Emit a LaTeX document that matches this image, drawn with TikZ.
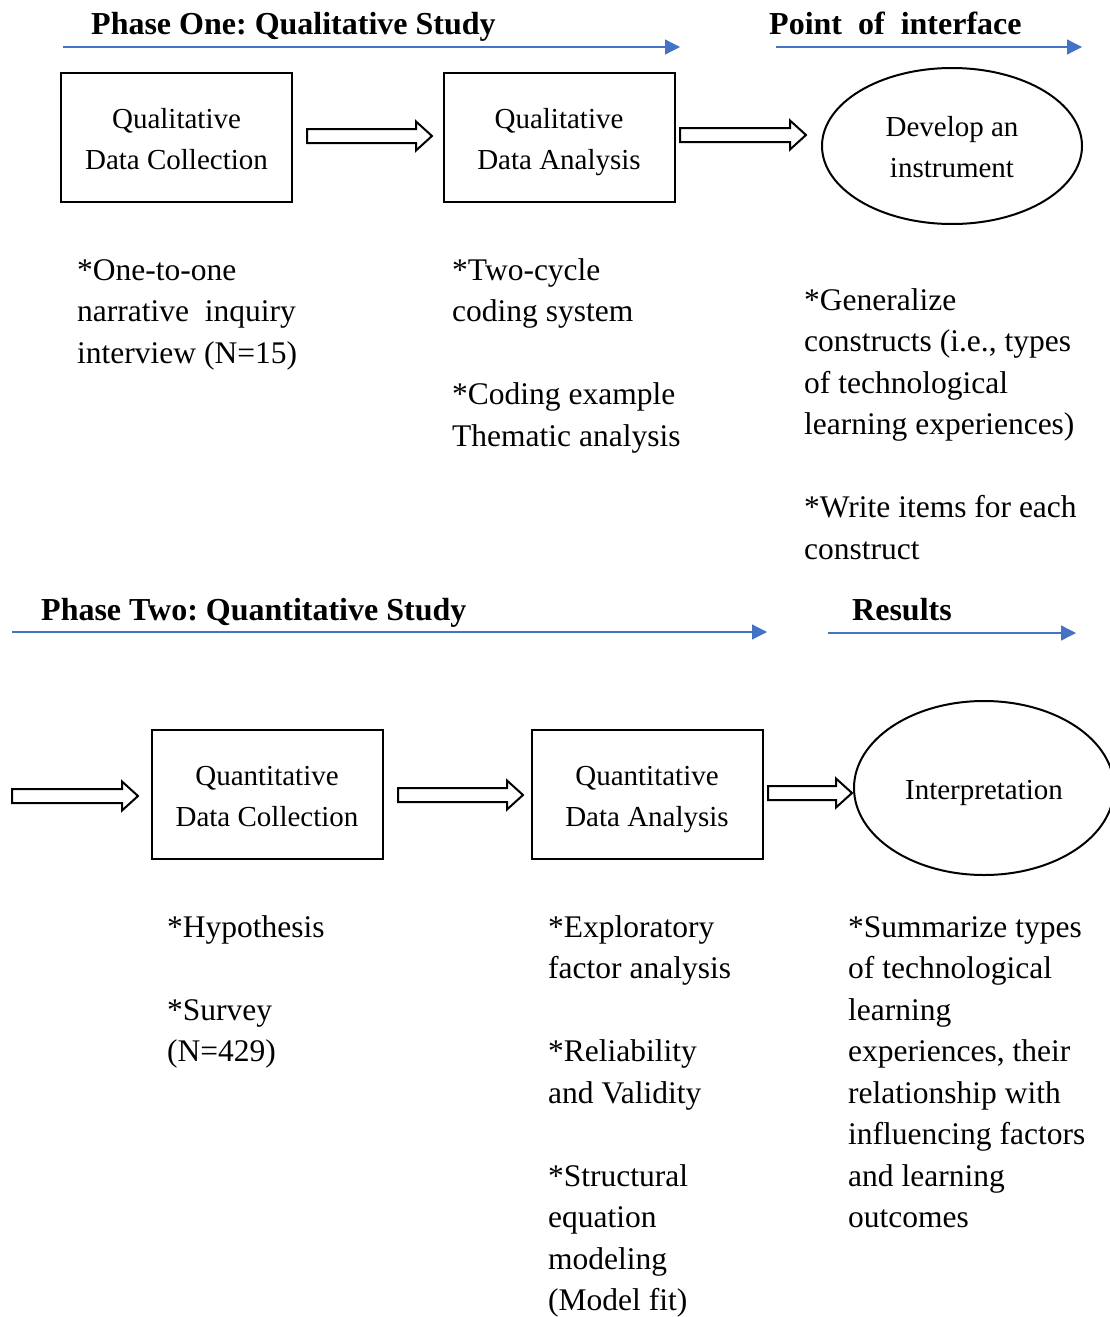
\documentclass[tikz,border=0pt]{standalone}
\usepackage{fontspec}
\setmainfont{Liberation Serif}
\usetikzlibrary{arrows.meta,shapes.geometric}
\definecolor{flowblue}{HTML}{4472C4}
% line struts that set the vertical placement of text inside shapes
\newcommand\topstrut{\rule{0pt}{30pt}}
\newcommand\botstrut{\rule[-8pt]{0pt}{8pt}}
\frenchspacing

\begin{document}
\begin{tikzpicture}[x=1pt,y=-1pt,
  box/.style={draw, line width=2pt, minimum width=231pt, minimum height=129pt,
    inner sep=0pt, align=center, font=\fontsize{29}{41}\selectfont},
  oval/.style={draw, ellipse, line width=2pt, inner sep=0pt, align=center,
    font=\fontsize{29}{41}\selectfont},
  note/.style={anchor=north west, inner sep=0pt, align=left,
    font=\fontsize{31.5}{41.5}\selectfont},
  phase/.style={anchor=base west, inner sep=0pt,
    font=\fontsize{32}{38}\selectfont\bfseries},
  timeline/.style={draw=flowblue, line width=1.3pt,
    -{Triangle[length=15pt,width=15pt]}},
  hollow/.style={draw, line width=2pt, fill=white, line join=miter},
  pics/hollowarrow/.style={code={
    \draw[hollow] (0,-7) -- ({#1-16},-7) -- ({#1-16},-14.5) -- (#1,0)
      -- ({#1-16},14.5) -- ({#1-16},7) -- (0,7) -- cycle;}},
]
\clip (0,0) rectangle (1110,1317);

% ---------- Phase one ----------
\node[phase] (h1) at (91,34) {Phase One: Qualitative Study};
\node[phase] (h2) at (769,34) {Point\ \ of\ \ interface};
\coordinate (t1s) at (63,47);   \coordinate (t1e) at (680,47);
\coordinate (t2s) at (776,47);  \coordinate (t2e) at (1082,47);
\draw[timeline] (t1s) -- (t1e);
\draw[timeline] (t2s) -- (t2e);

\node[box] (qlc) at (176.5,137.5) {\topstrut Qualitative\\Data Collection\botstrut};
\node[box] (qla) at (559,137.5) {\topstrut Qualitative\\Data Analysis\botstrut};
\node[oval, minimum width=260pt, minimum height=156pt] (dev) at (952,146)
  {\topstrut Develop an\\instrument\botstrut};

\pic (a1) at (307,136) {hollowarrow=125};
\pic (a2) at (680,135) {hollowarrow=126};

\node[note] (n1) at (77,251) {\strut*One-to-one\\narrative\ \ inquiry\\interview (N=15)};
\node[note] (n2) at (452,251) {\strut*Two-cycle\\coding system\\[41.5pt]{}*Coding example\\Thematic analysis};
\node[note] (n3) at (804,281) {\strut*Generalize\\constructs (i.e., types\\of technological\\learning experiences)\\[41.5pt]{}*Write items for each\\construct};

% ---------- Phase two ----------
\node[phase] (h3) at (41,620) {Phase Two: Quantitative Study};
\node[phase] (h4) at (852,620) {Results};
\coordinate (t3s) at (12,632);  \coordinate (t3e) at (767,632);
\coordinate (t4s) at (828,633); \coordinate (t4e) at (1076,633);
\draw[timeline] (t3s) -- (t3e);
\draw[timeline] (t4s) -- (t4e);

\pic (a3) at (12,796) {hollowarrow=126};
\node[box] (qnc) at (267,794.5) {\topstrut Quantitative\\Data Collection\botstrut};
\pic (a4) at (398,795) {hollowarrow=125};
\node[box] (qna) at (647,794.5) {\topstrut Quantitative\\Data Analysis\botstrut};
\pic (a5) at (768,793) {hollowarrow=84};
\node[oval, minimum width=260pt, minimum height=174pt] (int) at (984,788)
  {\topstrut Interpretation\botstrut};

\node[note] (n4) at (167,908) {\strut*Hypothesis\\[41.5pt]{}*Survey\\(N=429)};
\node[note] (n5) at (548,908) {\strut*Exploratory\\factor analysis\\[41.5pt]{}*Reliability\\and Validity\\[41.5pt]{}*Structural\\equation\\modeling\\(Model fit)};
\node[note] (n6) at (848,908) {\strut*Summarize types\\of technological\\learning\\experiences, their\\relationship with\\influencing factors\\and learning\\outcomes};
\end{tikzpicture}
\end{document}
